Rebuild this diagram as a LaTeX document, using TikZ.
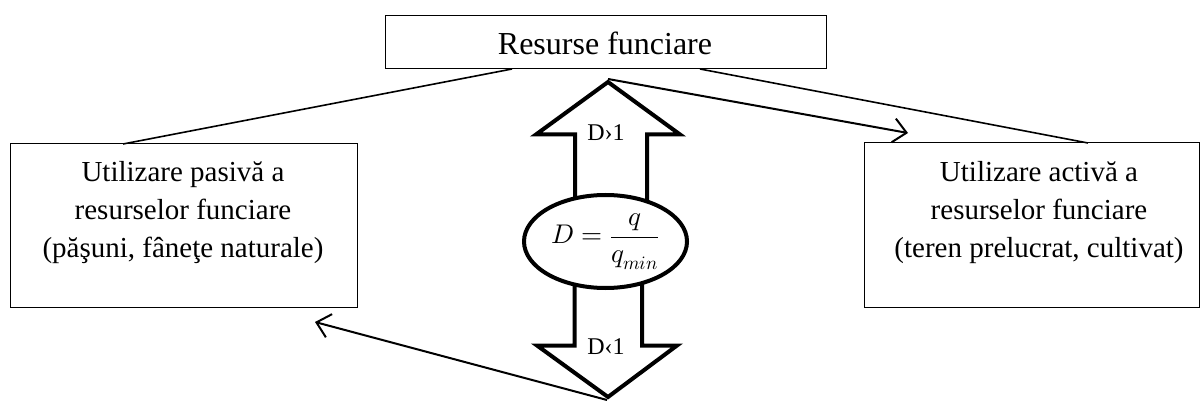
\documentclass[tikz,border=0pt]{standalone}
\usepackage{fontspec}
\usepackage{unicode-math}
\setmainfont{Liberation Serif}
\setmathfont{Latin Modern Math}
\usetikzlibrary{arrows.meta,shapes.geometric}
\begin{document}
\begin{tikzpicture}[x=1pt,y=-1pt,
  box/.style={draw,line width=1pt,rectangle,inner sep=0pt},
  boxtext/.style={align=center,font=\fontsize{29}{38}\selectfont,inner sep=0pt},
  thin/.style={line width=1.6pt},
  openarrow/.style={line width=2pt,-{Straight Barb[length=13pt,width=24pt,line width=2pt]}},
  bigarrow/.style={draw,line width=4pt,fill=white,line join=miter,miter limit=10},
  small/.style={font=\fontsize{24}{28}\selectfont,inner sep=0pt}]
\useasboundingbox (0,0) rectangle (1201,403);
% boxes
\node[box,minimum width=441pt,minimum height=53pt] (top) at (605.5,42.5) {};
\node[font=\fontsize{32}{38}\selectfont,inner sep=0pt] (toptext) at (605,43) {Resurse funciare};
\node[box,minimum width=347pt,minimum height=163pt] (left) at (183.5,225.5) {};
\node[boxtext] (lefttext) at (183,213) {Utilizare pasivă a\\resurselor funciare\\(păşuni, fâneţe naturale)};
\node[box,minimum width=335pt,minimum height=164pt] (right) at (1031.5,225) {};
\node[boxtext] (righttext) at (1039,213) {Utilizare activă a\\resurselor funciare\\(teren prelucrat, cultivat)};
% big arrows
\draw[bigarrow] (608,82) -- (680,134.5) -- (647,134.5) -- (647,215) -- (575,215) -- (575,134.5) -- (536,134.5) -- cycle;
\draw[bigarrow] (574.5,270) -- (574.5,345.5) -- (537,345.5) -- (608,397) -- (677,345.5) -- (642,345.5) -- (642,270) -- cycle;
\node[draw,ellipse,line width=4pt,fill=white,minimum width=163pt,minimum height=93pt,inner sep=0pt] (formula) at (605.5,241.5)
  {\fontsize{27}{32}\selectfont$\displaystyle D=\frac{q}{q_{min}}$};
\node[small] (dgt) at (606,133) {D›1};
\node[small] (dlt) at (606,347) {D‹1};
% coordinates
\coordinate (upTip) at (608,79);
\coordinate (downTip) at (607,400);
\coordinate (topL) at (512,69);
\coordinate (topR) at (700,69);
\coordinate (leftT) at (123,144);
\coordinate (rightT) at (1088,143);
\coordinate (rightArr) at (908,133);
\coordinate (leftArr) at (315,322);
% connectors
\draw[thin] (topL) -- (leftT);
\draw[thin] (topR) -- (rightT);
\draw[openarrow] (upTip) -- (rightArr);
\draw[openarrow] (downTip) -- (leftArr);
\end{tikzpicture}
\end{document}
